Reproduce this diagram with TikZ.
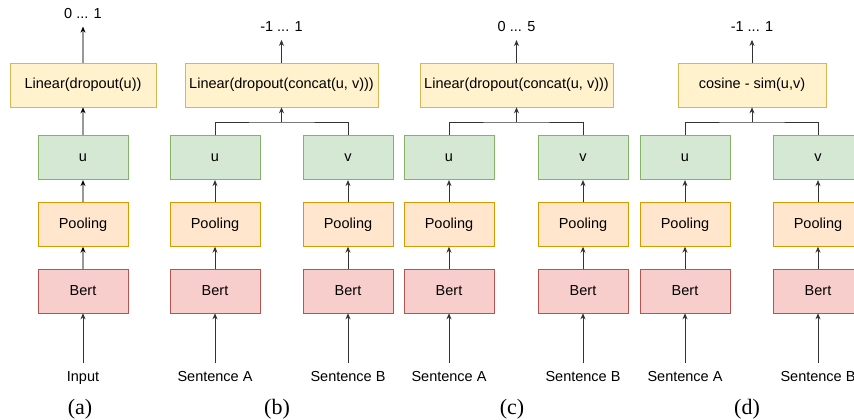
\documentclass[tikz,border=0pt]{standalone}
\usepackage{fontspec}
\setmainfont{Liberation Sans}
\newfontfamily\capfont{Liberation Serif}
\usepackage{xcolor}
\usetikzlibrary{positioning,arrows.meta}

\definecolor{headfill}{HTML}{FFF2CC}
\definecolor{headline}{HTML}{D6B656}
\definecolor{embfill}{HTML}{D5E8D4}
\definecolor{embline}{HTML}{82B366}
\definecolor{poolfill}{HTML}{FFE6CC}
\definecolor{poolline}{HTML}{D79B00}
\definecolor{bertfill}{HTML}{F8CECC}
\definecolor{bertline}{HTML}{B85450}
\definecolor{wire}{HTML}{333333}

\begin{document}
\begin{tikzpicture}[
  x=1pt, y=1pt,
  font=\fontsize{14.5}{17}\selectfont,
  blk/.style ={draw, line width=0.6pt, minimum width=90pt, minimum height=44pt,
               inner sep=0pt, align=center},
  bert/.style={blk, fill=bertfill, draw=bertline},
  pool/.style={blk, fill=poolfill, draw=poolline},
  emb/.style ={blk, fill=embfill, draw=embline},
  head/.style={blk, fill=headfill, draw=headline},
  txt/.style ={inner sep=8pt, anchor=base},
  panel/.style={font=\capfont\fontsize{22}{24}\selectfont, anchor=base},
  arr/.style ={-{Stealth[length=6pt,width=5pt]}, line width=0.8pt, draw=wire},
  arrgray/.style={-{Stealth[length=6pt,width=5pt,color=black]}, line width=1.6pt,
                  draw=black!40},
  wire/.style={line width=0.8pt, draw=wire},
  node distance=22pt,
]
\useasboundingbox (0,0) rectangle (854,420);

% encoder columns
\foreach \c/\x/\v/\src/\st in {a/83/u/Input/arrgray,
    bA/215/u/Sentence A/arr, bB/348/v/Sentence B/arr,
    cA/449/u/Sentence A/arr, cB/583/v/Sentence B/arr,
    dA/685/u/Sentence A/arr, dB/818/v/Sentence B/arr} {
  \node[bert] (bert-\c) at (\x,129) {Bert};
  \node[pool, above=of bert-\c] (pool-\c) {Pooling};
  \node[emb, above=of pool-\c] (emb-\c) {\v};
  \node[txt] (in-\c) at (\x,38.5) {\src};
  \draw[arr] (in-\c) -- (bert-\c);
  \draw[\st] (bert-\c) -- (pool-\c);
  \draw[\st] (pool-\c) -- (emb-\c);
}

% heads
\node[head, minimum width=146pt] (head-a) at (83,335) {Linear(dropout(u))};
\node[head, minimum width=193pt] (head-b) at (281.5,335) {Linear(dropout(concat(u, v)))};
\node[head, minimum width=193pt] (head-c) at (516.5,335) {Linear(dropout(concat(u, v)))};
\node[head, minimum width=148pt] (head-d) at (752,335) {cosine - sim(u,v)};

\node[txt] (out-a) at (83,401.7) {0 ... 1};
\node[txt] (out-b) at (281.5,388.3) {-1 ... 1};
\node[txt] (out-c) at (516.5,388.3) {0 ... 5};
\node[txt] (out-d) at (752,388.3) {-1 ... 1};

\draw[arrgray] (emb-a) -- (head-a);
\draw[arrgray] (head-a) -- (out-a);

\coordinate (join-b) at (281.5,298);
\coordinate (join-c) at (516.5,298);
\coordinate (join-d) at (752,298);
\draw[wire] (emb-bA.north) |- (join-b) -| (emb-bB.north);
\draw[wire] (emb-cA.north) |- (join-c) -| (emb-cB.north);
\draw[wire] (emb-dA.north) |- (join-d) -| (emb-dB.north);
\draw[arr] (join-b) -- (head-b);
\draw[arr] (join-c) -- (head-c);
\draw[arr] (join-d) -- (head-d);
\draw[arr] (head-b) -- (out-b);
\draw[arr] (head-c) -- (out-c);
\draw[arr] (head-d) -- (out-d);

% panel captions
\node[panel] (cap-a) at (80,5) {(a)};
\node[panel] (cap-b) at (277,5) {(b)};
\node[panel] (cap-c) at (512,5) {(c)};
\node[panel] (cap-d) at (747,5) {(d)};

\end{tikzpicture}
\end{document}
